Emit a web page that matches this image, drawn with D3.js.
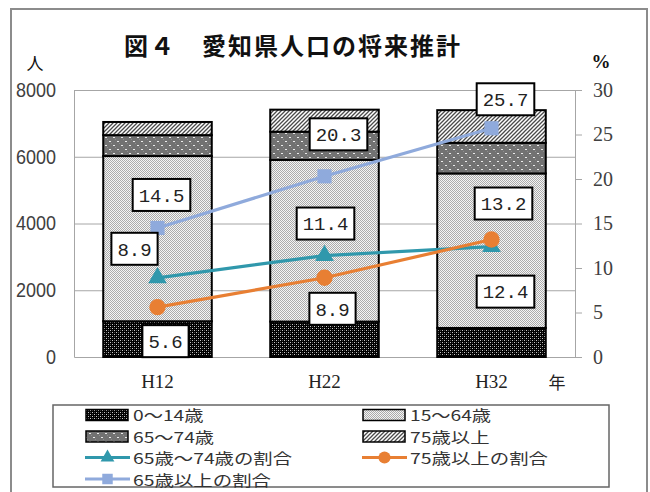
<!DOCTYPE html>
<html>
<head>
<meta charset="utf-8">
<script src="https://cdn.jsdelivr.net/npm/d3@7"></script>
<style>
  body { margin: 0; background: #fff; }
  svg { display: block; }
</style>
</head>
<body>
<svg id="chart" width="650" height="492"></svg>
<script>
// 年次（平成）
const categories = ["H12", "H22", "H32"];

// 年齢区分別人口（千人）
const age0to14  = [1071, 1061, 870];
const age15to64 = [4950, 4845, 4630];
const age65to74 = [627, 845, 918];
const age75plus = [394, 660, 978];

// 高齢者の割合（%）
const share65to74 = [8.9, 11.4, 12.4];
const share75plus = [5.6, 8.9, 13.2];
const share65plus = [14.5, 20.3, 25.7];

// 目盛り
const popTicks = [0, 2000, 4000, 6000, 8000];
const pctTicks = [0, 5, 10, 15, 20, 25, 30];

const titleText = "図４　愛知県人口の将来推計";
const ageNames = ["0～14歳", "15～64歳", "65～74歳", "75歳以上"];
const shareNames = ["65歳～74歳の割合", "75歳以上の割合", "65歳以上の割合"];

const svg = d3.select("#chart");
const plot = { left: 74, right: 575, top: 90, bottom: 357 };

// 外枠
svg.append("rect")
  .attr("x", 11).attr("y", 9).attr("width", 636).attr("height", 500)
  .attr("fill", "#fff").attr("stroke", "#8c8c8c").attr("stroke-width", 2);

// ---- 塗りパターン ----
const defs = svg.append("defs");
function pixelPattern(id, size, bg, dots) {
  const p = defs.append("pattern").attr("id", id)
    .attr("patternUnits", "userSpaceOnUse")
    .attr("width", size[0]).attr("height", size[1]);
  p.append("rect").attr("width", size[0]).attr("height", size[1]).attr("fill", bg);
  dots.forEach(d => p.append("rect")
    .attr("x", d[0]).attr("y", d[1]).attr("width", d[2]).attr("height", d[3])
    .attr("fill", d[4]));
  return p;
}
pixelPattern("pat0", [4, 4], "#000", [[0,0,1,1,"#c8c8c8"],[2,2,1,1,"#c8c8c8"],[2,0,1,1,"#4a4a4a"],[0,2,1,1,"#4a4a4a"]]);
pixelPattern("pat1", [2, 2], "#f4f4f4", [[0,0,1,1,"#ababab"],[1,1,1,1,"#ababab"]]);
pixelPattern("pat2", [8, 8], "#727272", [[1,1,2,1,"#ececec"],[5,5,2,1,"#ececec"],[3,3,1,1,"#8c8c8c"],[7,7,1,1,"#8c8c8c"]]);
const hatch = defs.append("pattern").attr("id", "pat3")
  .attr("patternUnits", "userSpaceOnUse").attr("width", 4).attr("height", 4);
hatch.append("rect").attr("width", 4).attr("height", 4).attr("fill", "#fff");
hatch.append("path").attr("d", "M-1,1 l2,-2 M0,4 l4,-4 M3,5 l2,-2")
  .attr("stroke", "#4a4a4a").attr("stroke-width", 1.3);
const fills = ["url(#pat0)", "url(#pat1)", "url(#pat2)", "url(#pat3)"];

// ---- スケール ----
const x = d3.scaleBand().domain(categories)
  .range([plot.left, plot.right]).paddingInner(0.35).paddingOuter(0.175);
const yPop = d3.scaleLinear().domain([0, 8000]).range([plot.bottom, plot.top]);
const yPct = d3.scaleLinear().domain([0, 30]).range([plot.bottom, plot.top]);

// 目盛線
svg.append("g")
  .attr("transform", `translate(${plot.left},0)`)
  .call(d3.axisLeft(yPop).tickValues(popTicks.slice(1)).tickSize(-(plot.right - plot.left)).tickFormat(""))
  .call(g => g.select(".domain").remove())
  .call(g => g.selectAll("line").attr("stroke", "#a6a6a6").attr("stroke-width", 1));

// 左軸（人）：細長い数字
svg.append("g")
  .attr("transform", `translate(${plot.left},0)`)
  .call(d3.axisLeft(yPop).tickValues(popTicks).tickFormat(d3.format("d"))
    .tickSize(0).tickSizeOuter(0).tickPadding(18))
  .call(g => g.select(".domain").attr("stroke", "#a6a6a6"))
  .call(g => g.selectAll("text")
    .attr("font-family", "'Liberation Sans', Arial, sans-serif")
    .attr("font-size", 20).attr("fill", "#404040")
    .attr("textLength", function () { return this.textContent.length * 10; })
    .attr("lengthAdjust", "spacingAndGlyphs"));

// 右軸（%）
svg.append("g")
  .attr("transform", `translate(${plot.right},0)`)
  .call(d3.axisRight(yPct).tickValues(pctTicks).tickSize(7).tickSizeOuter(0).tickPadding(11))
  .call(g => g.select(".domain").attr("stroke", "#a6a6a6"))
  .call(g => g.selectAll("line").attr("stroke", "#a6a6a6"))
  .call(g => g.selectAll("text")
    .attr("font-family", "'Liberation Serif', serif")
    .attr("font-size", 20).attr("fill", "#404040"));

// 横軸
svg.append("g")
  .attr("transform", `translate(0,${plot.bottom})`)
  .call(d3.axisBottom(x).tickSize(0).tickSizeOuter(0))
  .call(g => g.select(".domain").attr("stroke", "#a6a6a6"))
  .call(g => g.selectAll("text")
    .attr("y", 24).attr("dy", "0.35em")
    .attr("font-family", "'Liberation Serif', serif")
    .attr("font-size", 19).attr("fill", "#222"));

// ---- 積み上げ棒 ----
const rows = categories.map((c, i) => ({
  cat: c, a: age0to14[i], b: age15to64[i], c65: age65to74[i], d: age75plus[i]
}));
const stack = d3.stack().keys(["a", "b", "c65", "d"])(rows);
svg.append("g").selectAll("g").data(stack).join("g")
  .attr("fill", (s, i) => fills[i])
  .selectAll("rect").data(s => s).join("rect")
  .attr("x", d => x(d.data.cat))
  .attr("width", x.bandwidth())
  .attr("y", d => yPop(d[1]))
  .attr("height", d => yPop(d[0]) - yPop(d[1]))
  .attr("stroke", "#000").attr("stroke-width", 2);

// ---- 割合の折れ線 ----
const series = [
  { name: shareNames[0], values: share65to74, color: "#3098ac", marker: d3.symbolTriangle, size: 150 },
  { name: shareNames[1], values: share75plus, color: "#e87f33", marker: d3.symbolCircle, size: 210 },
  { name: shareNames[2], values: share65plus, color: "#8faadc", marker: d3.symbolSquare, size: 200 }
];
const cx = c => x(c) + x.bandwidth() / 2;
const line = d3.line().x((v, i) => cx(categories[i])).y(v => yPct(v));
series.forEach(s => {
  svg.append("path").datum(s.values)
    .attr("d", line).attr("fill", "none")
    .attr("stroke", s.color).attr("stroke-width", 3.2);
  svg.append("g").selectAll("path").data(s.values).join("path")
    .attr("transform", (v, i) => `translate(${cx(categories[i])},${yPct(v)})`)
    .attr("d", d3.symbol(s.marker, s.size)).attr("fill", s.color);
});

// ---- データラベル（系列ごとの配置 dx, dy）----
const labelPlacement = [
  [[-23, -29], [1, -32], [14, 45]],
  [[8, 34], [8, 31], [12, -36]],
  [[4, -33], [14, -42], [14, -29]]
];
const labelLayer = svg.append("g");
series.forEach((s, si) => {
  s.values.forEach((v, i) => {
    const px = cx(categories[i]) + labelPlacement[si][i][0];
    const py = yPct(v) + labelPlacement[si][i][1];
    const g = labelLayer.append("g").attr("transform", `translate(${px},${py})`);
    const r = g.append("rect");
    const t = g.append("text")
      .attr("text-anchor", "middle").attr("dy", "0.36em")
      .attr("font-family", "'Liberation Mono', monospace")
      .attr("font-size", 19).attr("fill", "#222")
      .text(v.toFixed(1));
    const w = t.node().getComputedTextLength() + 12;
    r.attr("x", -w / 2).attr("y", -16).attr("width", w).attr("height", 32)
      .attr("fill", "#fff").attr("stroke", "#000").attr("stroke-width", 2);
  });
});

// ---- 見出し・単位 ----
svg.append("text")
  .attr("x", 124).attr("y", 44).attr("dominant-baseline", "central")
  .attr("font-family", "'Noto Sans CJK JP', sans-serif")
  .attr("font-weight", 700).attr("font-size", 24).attr("letter-spacing", 2)
  .attr("fill", "#111").text(titleText);
svg.append("text").attr("x", 35).attr("y", 62).attr("text-anchor", "middle")
  .attr("dominant-baseline", "central")
  .attr("font-family", "'Noto Sans CJK JP', sans-serif").attr("font-size", 17)
  .attr("fill", "#111").text("人");
svg.append("text").attr("x", 601).attr("y", 61).attr("text-anchor", "middle")
  .attr("dominant-baseline", "central")
  .attr("font-family", "'Liberation Serif', serif").attr("font-size", 19).attr("font-weight", 700)
  .attr("fill", "#111").text("%");
svg.append("text").attr("x", 557).attr("y", 381).attr("text-anchor", "middle")
  .attr("dominant-baseline", "central")
  .attr("font-family", "'Noto Sans CJK JP', sans-serif").attr("font-size", 17)
  .attr("fill", "#222").text("年");

// ---- 凡例 ----
const legend = svg.append("g");
legend.append("rect")
  .attr("x", 53).attr("y", 405).attr("width", 556).attr("height", 82)
  .attr("fill", "#fff").attr("stroke", "#666").attr("stroke-width", 1.5);
const colX = [85, 362];
const rowY = [414.5, 436, 457.5, 479];
const legendItems = [
  { type: "bar", idx: 0, col: 0, row: 0 },
  { type: "bar", idx: 1, col: 1, row: 0 },
  { type: "bar", idx: 2, col: 0, row: 1 },
  { type: "bar", idx: 3, col: 1, row: 1 },
  { type: "line", idx: 0, col: 0, row: 2 },
  { type: "line", idx: 1, col: 1, row: 2 },
  { type: "line", idx: 2, col: 0, row: 3 }
];
// 半角は細く、全角は正方に近い幅で並べる
const labelWidth = str => Array.from(str)
  .reduce((w, ch) => w + (/[0-9]/.test(ch) ? 10.5 : 19.5), 0);
legendItems.forEach(it => {
  const x0 = colX[it.col], y0 = rowY[it.row];
  if (it.type === "bar") {
    legend.append("rect").attr("x", x0 + 1).attr("y", y0 - 5).attr("width", 42).attr("height", 11)
      .attr("fill", fills[it.idx]).attr("stroke", "#000").attr("stroke-width", 1.5);
  } else {
    const s = series[it.idx];
    legend.append("line").attr("x1", x0).attr("x2", x0 + 45).attr("y1", y0).attr("y2", y0)
      .attr("stroke", s.color).attr("stroke-width", 3.2);
    legend.append("path").attr("transform", `translate(${x0 + 22.5},${y0})`)
      .attr("d", d3.symbol(s.marker, s.size * 0.55)).attr("fill", s.color);
  }
  const label = it.type === "bar" ? ageNames[it.idx] : series[it.idx].name;
  legend.append("text")
    .attr("x", x0 + 48).attr("y", y0).attr("dominant-baseline", "central")
    .attr("font-family", "'Noto Sans CJK JP', sans-serif").attr("font-size", 14.8)
    .attr("textLength", labelWidth(label)).attr("lengthAdjust", "spacingAndGlyphs")
    .attr("fill", "#333")
    .text(label);
});
</script>
</body>
</html>
